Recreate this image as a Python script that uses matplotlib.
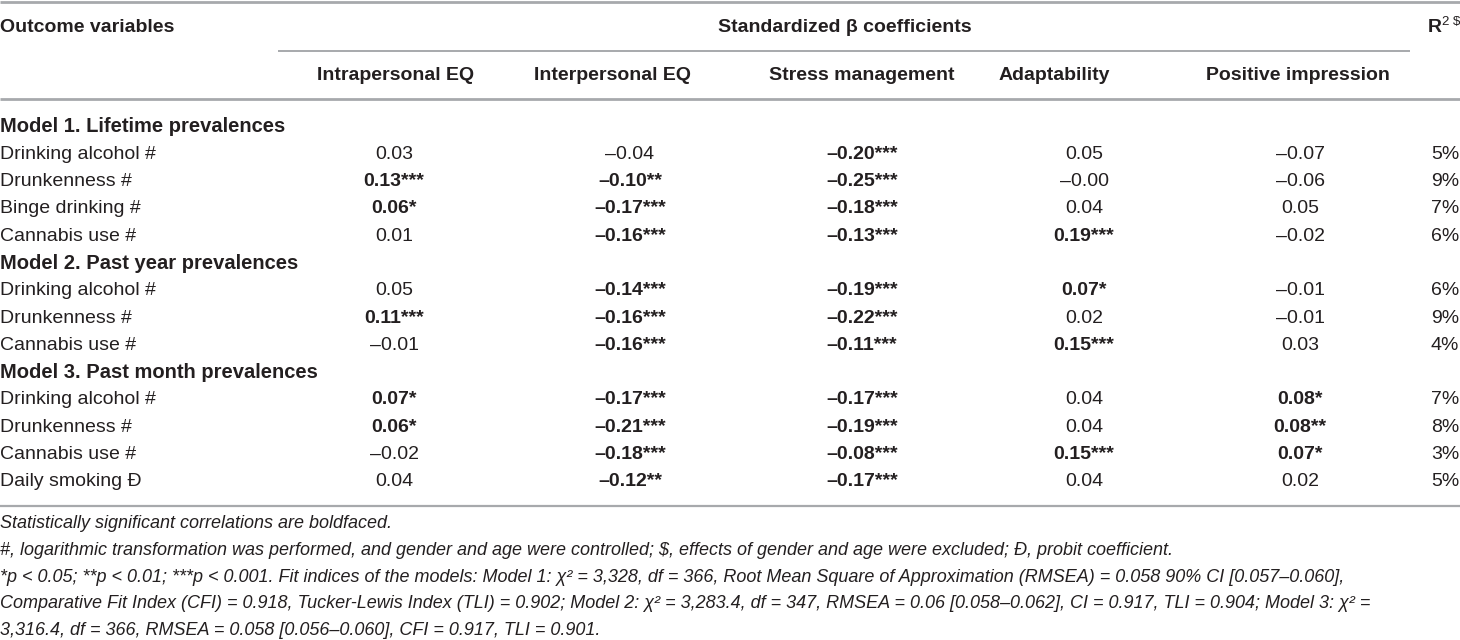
import numpy as np
import matplotlib.pyplot as plt

plt.rcParams['font.family'] = ['Liberation Sans', 'DejaVu Sans']

# заголовки
stub_title = 'Outcome variables'
span_title = 'Standardized β coefficients'
col_titles = ['Intrapersonal EQ', 'Interpersonal EQ', 'Stress management',
              'Adaptability', 'Positive impression']

# групи моделей та змінні
groups = ['Model 1. Lifetime prevalences',
          'Model 2. Past year prevalences',
          'Model 3. Past month prevalences']
outcomes = [['Drinking alcohol #', 'Drunkenness #', 'Binge drinking #', 'Cannabis use #'],
            ['Drinking alcohol #', 'Drunkenness #', 'Cannabis use #'],
            ['Drinking alcohol #', 'Drunkenness #', 'Cannabis use #', 'Daily smoking Ð']]

# коефіцієнти та зірочки значущості
intra = [0.03, 0.13, 0.06, 0.01, 0.05, 0.11, -0.01, 0.07, 0.06, -0.02, 0.04]
intra_sig = ['', '***', '*', '', '', '***', '', '*', '*', '', '']
inter = [-0.04, -0.10, -0.17, -0.16, -0.14, -0.16, -0.16, -0.17, -0.21, -0.18, -0.12]
inter_sig = ['', '**', '***', '***', '***', '***', '***', '***', '***', '***', '**']
stress = [-0.20, -0.25, -0.18, -0.13, -0.19, -0.22, -0.11, -0.17, -0.19, -0.08, -0.17]
stress_sig = ['***'] * 11
adapt = [0.05, -0.00, 0.04, 0.19, 0.07, 0.02, 0.15, 0.04, 0.04, 0.15, 0.04]
adapt_sig = ['', '', '', '***', '*', '', '***', '', '', '***', '']
posimp = [-0.07, -0.06, 0.05, -0.02, -0.01, -0.01, 0.03, 0.08, 0.08, 0.07, 0.02]
posimp_sig = ['', '', '', '', '', '', '', '*', '**', '*', '']
r2 = [5, 9, 7, 6, 6, 9, 4, 7, 8, 3, 5]

notes = [
    'Statistically significant correlations are boldfaced.',
    '#, logarithmic transformation was performed, and gender and age were controlled; '
    '$, effects of gender and age were excluded; Ð, probit coefficient.',
    '*p < 0.05; **p < 0.01; ***p < 0.001. Fit indices of the models: Model 1: χ² = 3,328, '
    'df = 366, Root Mean Square of Approximation (RMSEA) = 0.058 90% CI [0.057–0.060],',
    'Comparative Fit Index (CFI) = 0.918, Tucker-Lewis Index (TLI) = 0.902; Model 2: χ² = 3,283.4, '
    'df = 347, RMSEA = 0.06 [0.058–0.062], CI = 0.917, TLI = 0.904; Model 3: χ² =',
    '3,316.4, df = 366, RMSEA = 0.058 [0.056–0.060], CFI = 0.917, TLI = 0.901.',
]

ink = '#231f20'
rule = '#a7a9ac'

fig = plt.figure(figsize=(14.6, 6.4), dpi=100)
ax = fig.add_axes([0, 0, 1, 1])
ax.set_xlim(0, 1460)
ax.set_ylim(640, 0)
ax.axis('off')

# центри колонок (пікселі)
col_x = [394, 630, 862, 1084, 1300]
head_x = [396, 612, 862, 1054, 1298]

# лінії
ax.hlines(2, 0, 1460, color=rule, lw=2.0)
ax.hlines(51, 278, 1410, color=rule, lw=1.4)
ax.hlines(99, 0, 1460, color=rule, lw=2.0)
ax.hlines(506, 0, 1460, color=rule, lw=1.6)

# шапка
ax.text(0, 27, stub_title, ha='left', va='center', fontsize=14, fontweight='bold', color=ink)
ax.text(845, 27, span_title, ha='center', va='center', fontsize=14, fontweight='bold', color=ink)
ax.text(1428, 27, 'R', ha='left', va='center', fontsize=14, fontweight='bold', color=ink)
ax.text(1442, 22, '2 $', ha='left', va='center', fontsize=9.5, color=ink)
for x, t in zip(head_x, col_titles):
    ax.text(x, 76, t, ha='center', va='center', fontsize=14, fontweight='bold', color=ink)

cols = [(intra, intra_sig), (inter, inter_sig), (stress, stress_sig),
        (adapt, adapt_sig), (posimp, posimp_sig)]

y0 = 127
dy = 27.3
k = 0  # номер рядка в таблиці
i = 0  # номер рядка даних
for g, outs in zip(groups, outcomes):
    ax.text(0, y0 + k * dy, g, ha='left', va='center', fontsize=14.5,
            fontweight='bold', color=ink)
    k += 1
    for name in outs:
        y = y0 + k * dy
        ax.text(0, y, name, ha='left', va='center', fontsize=14, color=ink)
        for x, (vals, sig) in zip(col_x, cols):
            s = f'{vals[i]:.2f}'.replace('-', '–') + sig[i]
            ax.text(x, y, s, ha='center', va='center', fontsize=14,
                    fontweight='bold' if sig[i] else 'normal', color=ink)
        ax.text(1459, y, f'{r2[i]}%', ha='right', va='center', fontsize=14, color=ink)
        k += 1
        i += 1

# примітки
for j, t in enumerate(notes):
    ax.text(0, 524 + j * 26.6, t, ha='left', va='center', fontsize=13,
            style='italic', color=ink)

fig.savefig('out.png', dpi=100)
